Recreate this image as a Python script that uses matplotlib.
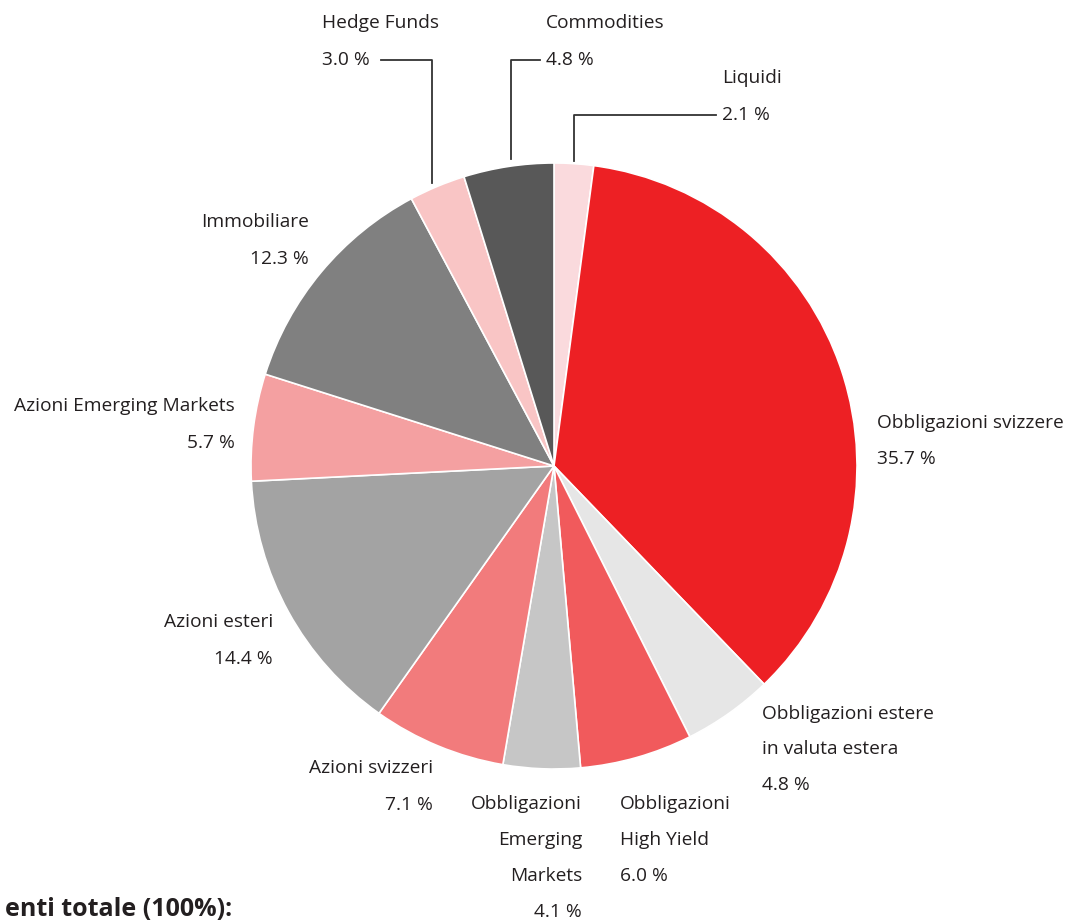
import matplotlib.pyplot as plt

# data
labels = ['Liquidi', 'Obbligazioni svizzere', 'Obbligazioni estere\nin valuta estera',
          'Obbligazioni\nHigh Yield', 'Obbligazioni\nEmerging\nMarkets', 'Azioni svizzeri',
          'Azioni esteri', 'Azioni Emerging Markets', 'Immobiliare', 'Hedge Funds', 'Commodities']
shares = [2.1, 35.7, 4.8, 6.0, 4.1, 7.1, 14.4, 5.7, 12.3, 3.0, 4.8]
colors = ['#fadadd', '#ed2024', '#e6e6e6', '#f15a5c', '#c6c6c6', '#f27b7c',
          '#a3a3a3', '#f4a0a1', '#808080', '#f9c5c5', '#585858']

W, H = 1077, 924
txt_col = '#231f20'
plt.rcParams['font.family'] = ['Open Sans', 'DejaVu Sans']

fig = plt.figure(figsize=(W / 100, H / 100), dpi=100)
ax = fig.add_axes([0, 0, 1, 1])

def Y(yp):
    return H - yp

ax.pie(shares, colors=colors, startangle=90, counterclock=False,
       center=(554, Y(466)), radius=303,
       wedgeprops=dict(edgecolor='white', linewidth=1.2))
ax.set_xlim(0, W)
ax.set_ylim(0, H)
ax.set_aspect('equal')
ax.axis('off')

def label(x, y, lines, ha='left', step=36.5):
    for i, s in enumerate(lines):
        ax.text(x, Y(y + i * step), s, ha=ha, va='center', fontsize=13.8, color=txt_col)

label(322, 23, ['Hedge Funds', '3.0 %'], step=37)
label(546, 23, ['Commodities', '4.8 %'], step=37)
label(722, 78, ['Liquidi', '2.1 %'], step=37)
label(309, 222, ['Immobiliare', '12.3 %'], ha='right')
label(235, 406, ['Azioni Emerging Markets', '5.7 %'], ha='right')
label(877, 423, ['Obbligazioni svizzere', '35.7 %'])
label(273, 622, ['Azioni esteri', '14.4 %'], ha='right')
label(762, 714, ['Obbligazioni estere', 'in valuta estera', '4.8 %'], step=35.5)
label(433, 768, ['Azioni svizzeri', '7.1 %'], ha='right')
label(582, 804, ['Obbligazioni', 'Emerging', 'Markets', '4.1 %'], ha='right', step=36)
label(620, 804, ['Obbligazioni', 'High Yield', '6.0 %'], step=36)

# leader lines
lk = dict(color='#333333', lw=1.3)
ax.plot([381, 432, 432], [Y(60), Y(60), Y(183)], **lk)
ax.plot([540, 511, 511], [Y(60), Y(60), Y(159)], **lk)
ax.plot([716, 574, 574], [Y(115), Y(115), Y(161)], **lk)

# title fragment visible at the lower left edge
ax.text(232, Y(910), 'enti totale (100%):', ha='right', va='center',
        fontsize=18, fontweight='bold', color=txt_col)

fig.savefig('out.png', dpi=100)
